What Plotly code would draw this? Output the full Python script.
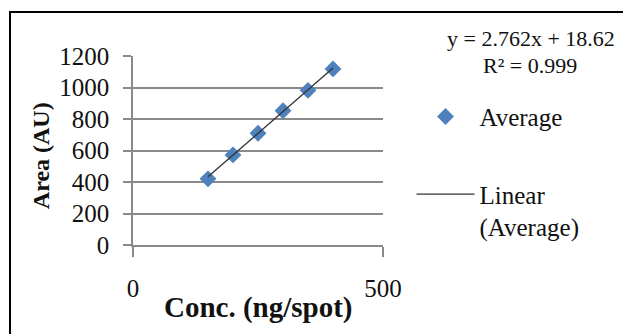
import plotly.graph_objects as go

# ---- data ----
conc = [150, 200, 250, 300, 350, 400]          # ng/spot
area = [420, 572, 710, 852, 982, 1118]         # AU
slope = 2.762
intercept = 18.62
r2 = 0.999
y_ticks = [0, 200, 400, 600, 800, 1000, 1200]
x_ticks = [0, 500]

fit_x = [conc[0], conc[-1]]
fit_y = [slope * v + intercept for v in fit_x]

SERIF = "Liberation Serif"
GRID = "#8a8a8a"
INK = "#111111"

fig = go.Figure()
fig.add_trace(go.Scatter(
    x=conc, y=area, mode="markers", name="Average",
    marker=dict(symbol="diamond", size=13, color="#4F81BD"),
    legendgroup="a",
))
fig.add_trace(go.Scatter(
    x=fit_x, y=fit_y, mode="lines", name="Linear<br>(Average)",
    line=dict(color="#333333", width=1.3),
    legendgroup="b",
))

fig.update_layout(
    width=623, height=334,
    margin=dict(l=133, r=240, t=56, b=89),
    paper_bgcolor="white", plot_bgcolor="white",
    font=dict(family=SERIF, size=22, color=INK),
    showlegend=True,
    legend=dict(
        x=1.114, y=0.80, xanchor="left", yanchor="top",
        font=dict(family=SERIF, size=25, color=INK),
        traceorder="grouped", tracegroupgap=42, valign="top",
        itemwidth=58, bgcolor="rgba(0,0,0,0)",
    ),
    xaxis=dict(
        range=[0, 500], tickvals=x_ticks, ticks="outside", ticklen=10,
        tickcolor=GRID, tickwidth=1.5, showgrid=False, zeroline=False,
        showline=True, linecolor=GRID, linewidth=1.5,
        tickfont=dict(family=SERIF, size=25, color=INK), ticklabelstandoff=10,
        fixedrange=True,
    ),
    yaxis=dict(
        range=[0, 1200], tickvals=y_ticks, ticks="outside", ticklen=8,
        tickcolor=GRID, tickwidth=1.5, showgrid=True, gridcolor=GRID,
        gridwidth=1.5, zeroline=False, showline=True, linecolor=GRID,
        linewidth=1.5, tickfont=dict(family=SERIF, size=25, color=INK),
        ticklabelstandoff=9, fixedrange=True,
    ),
    annotations=[
        dict(text="<b>Conc. (ng/spot)</b>", xref="paper", yref="paper",
             x=0.5, y=-0.33, xanchor="center", yanchor="middle",
             showarrow=False, font=dict(family=SERIF, size=29, color=INK)),
        dict(text="<b>Area (AU)</b>", xref="paper", yref="paper",
             x=-0.368, y=0.47, xanchor="center", yanchor="middle",
             textangle=-90, showarrow=False,
             font=dict(family=SERIF, size=24, color=INK)),
        dict(text=f"y = {slope}x + {intercept}", xref="paper", yref="paper",
             x=1.592, y=1.095, xanchor="center", yanchor="middle",
             showarrow=False, font=dict(family=SERIF, size=22, color=INK)),
        dict(text=f"R² = {r2}", xref="paper", yref="paper",
             x=1.588, y=0.952, xanchor="center", yanchor="middle",
             showarrow=False, font=dict(family=SERIF, size=22, color=INK)),
    ],
    shapes=[
        dict(type="rect", xref="paper", yref="paper",
             x0=-0.492, x1=2.0, y0=-0.5, y1=1.233,
             line=dict(color="black", width=2), fillcolor="rgba(0,0,0,0)",
             layer="below"),
    ],
)

fig.write_html("out.html", config={"displayModeBar": False},
               post_script="document.body.style.margin='0';")
